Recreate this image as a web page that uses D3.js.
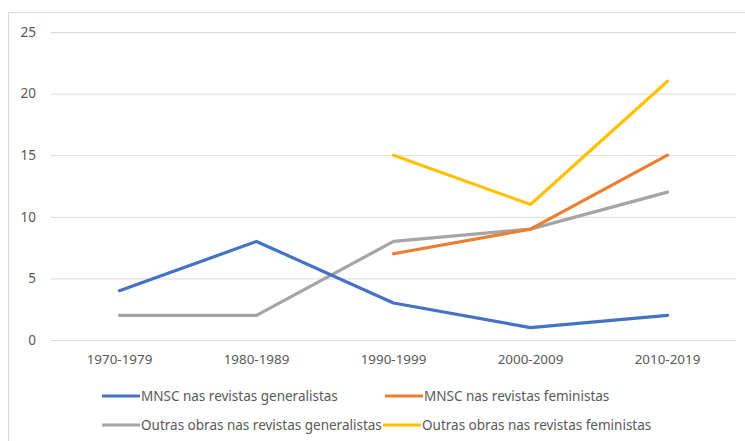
<!DOCTYPE html>
<html><head><meta charset="utf-8">
<script src="https://cdn.jsdelivr.net/npm/d3@7"></script>
<style>body{margin:0;background:#fff;}svg{display:block;font-family:"Noto Sans",sans-serif;}</style>
</head><body>
<svg id="c" width="745" height="441"></svg>
<script>
const categories = ["1970-1979","1980-1989","1990-1999","2000-2009","2010-2019"];
const mnscGeneralistas = [4, 8, 3, 1, 2];
const mnscFeministas = [null, null, 7, 9, 15];
const outrasGeneralistas = [2, 2, 8, 9, 12];
const outrasFeministas = [null, null, 15, 11, 21];
const yTicks = [0, 5, 10, 15, 20, 25];
const seriesNames = ["MNSC nas revistas generalistas","MNSC nas revistas feministas","Outras obras nas revistas generalistas","Outras obras nas revistas feministas"];
const colors = ["#4472C4","#ED7D31","#A5A5A5","#FFC000"];

const series = [
  {name: seriesNames[0], values: mnscGeneralistas, color: colors[0]},
  {name: seriesNames[1], values: mnscFeministas, color: colors[1]},
  {name: seriesNames[2], values: outrasGeneralistas, color: colors[2]},
  {name: seriesNames[3], values: outrasFeministas, color: colors[3]}
];
const drawOrder = [2, 0, 1, 3];

const svg = d3.select("#c");
svg.append("rect").attr("x", 8.5).attr("y", 12.5).attr("width", 745).attr("height", 440)
  .attr("fill", "none").attr("stroke", "#d9d9d9");

const x = d3.scaleBand().domain(categories).range([51, 736]);
const y = d3.scaleLinear().domain([0, 25]).range([340, 32]);

const gy = svg.append("g").attr("transform", "translate(51,0)")
  .call(d3.axisLeft(y).tickValues(yTicks).tickSize(-685).tickPadding(15));
gy.select(".domain").remove();
gy.selectAll(".tick line").attr("stroke", "#d9d9d9");
gy.selectAll(".tick text").attr("fill", "#595959").style("font-size", "13.5px").style("font-family", "'Noto Sans',sans-serif");

const gx = svg.append("g").attr("transform", "translate(0,340)")
  .call(d3.axisBottom(x).tickSize(0).tickPadding(14));
gx.select(".domain").remove();
gx.selectAll(".tick text").attr("fill", "#595959").style("font-size", "13.4px").style("font-family", "'Noto Sans',sans-serif");

const line = d3.line()
  .defined(d => d != null)
  .x((d, i) => x(categories[i]) + x.bandwidth() / 2)
  .y(d => y(d));

drawOrder.forEach(k => {
  const s = series[k];
  svg.append("path")
    .attr("d", line(s.values))
    .attr("fill", "none").attr("stroke", s.color)
    .attr("stroke-width", 3.2).attr("stroke-linejoin", "round").attr("stroke-linecap", "round");
});

const legendPos = [[102, 396], [385, 396], [102, 425], [383, 425]];
series.forEach((s, i) => {
  const [lx, ly] = legendPos[i];
  const g = svg.append("g").attr("transform", `translate(${lx},${ly})`);
  g.append("line").attr("x1", 0).attr("x2", 38).attr("y1", 0).attr("y2", 0)
    .attr("stroke", s.color).attr("stroke-width", 3.2);
  g.append("text").attr("x", 39).attr("y", 0).attr("dy", "0.35em")
    .attr("fill", "#595959").style("font-size", "13.5px").text(s.name);
});
</script>
</body></html>
